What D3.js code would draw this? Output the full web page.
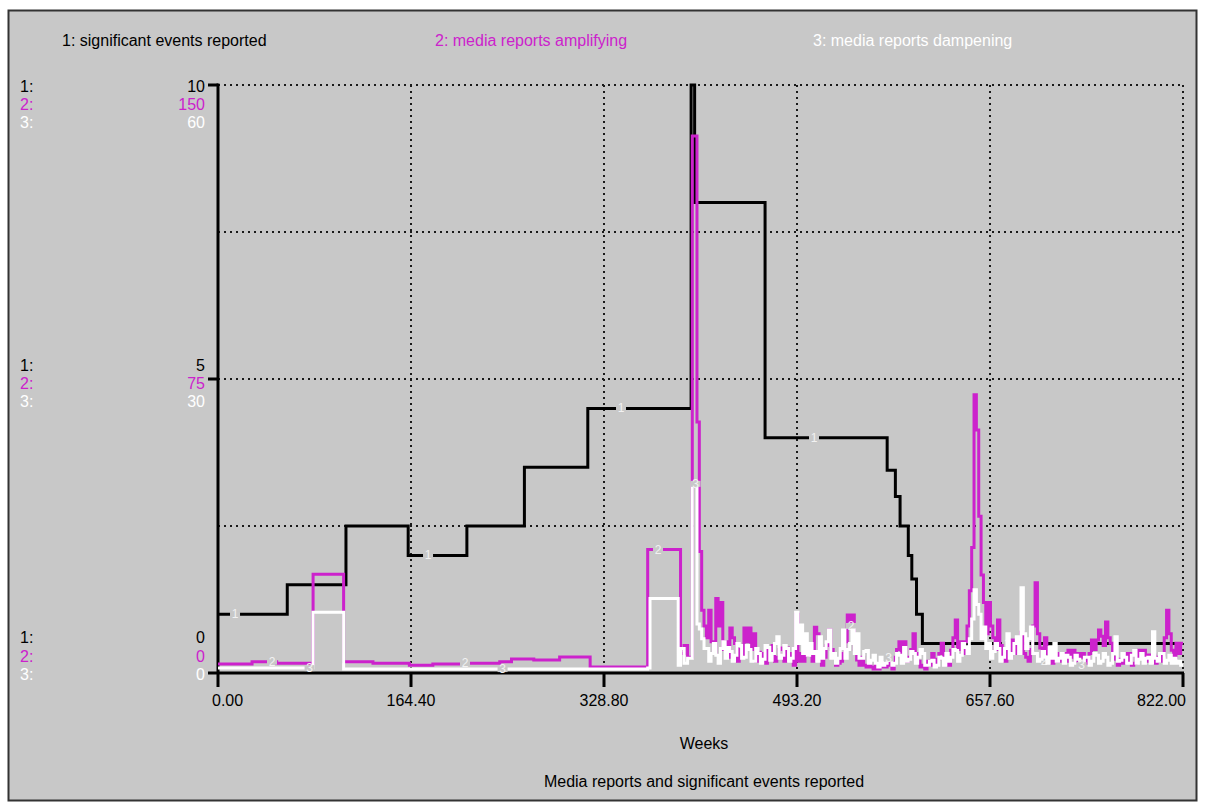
<!DOCTYPE html>
<html><head><meta charset="utf-8">
<script src="https://cdn.jsdelivr.net/npm/d3@7"></script>
<style>
body{margin:0;background:#ffffff;}
text{font-family:"Liberation Sans",Arial,sans-serif;}
</style>
</head><body>
<svg id="chart" width="1207" height="809"></svg>
<script>
// ---------------- data ----------------
const xTicks = [0, 164.4, 328.8, 493.2, 657.6, 822];
const seriesNames = ["1: significant events reported", "2: media reports amplifying", "3: media reports dampening"];
const seriesMax = [10, 150, 60];
const xLabel = "Weeks";
const chartTitle = "Media reports and significant events reported";

// series 1 : significant events reported (0..10)
const eventWeeks  = [0, 59, 109, 162, 212, 261, 315, 403, 406, 466, 570, 577, 581, 588, 591, 595, 600, 822];
const eventValues = [1.0, 1.5, 2.5, 2.0, 2.5, 3.5, 4.5, 10, 8.0, 4.0, 3.45, 3.0, 2.5, 2.0, 1.6, 1.0, 0.5, 0.5];

// series 2 and 3 share the week grid
const mediaWeeks = [0, 29, 50, 81, 107, 132, 163, 183, 208, 240, 250, 269, 291, 317, 366, 368, 392, 394, 397, 400,
  404, 406, 408, 410, 412, 414, 416, 418, 420, 422,
  424, 426, 428, 430, 432, 434, 436, 438, 440, 442,
  444, 446, 448, 450, 452, 454, 456, 458, 460, 462,
  464, 466, 468, 470, 472, 474, 476, 478, 480, 482,
  484, 486, 488, 490, 492, 494, 496, 498, 500, 502,
  504, 506, 508, 510, 512, 514, 516, 518, 520, 522,
  524, 526, 528, 530, 532, 534, 536, 538, 540, 542,
  544, 546, 548, 550, 552, 554, 556, 558, 560, 562,
  564, 566, 568, 570, 572, 574, 576, 578, 580, 582,
  584, 586, 588, 590, 592, 594, 596, 598, 600, 602,
  604, 606, 608, 610, 612, 614, 616, 618, 620, 622,
  624, 626, 628, 630, 632, 634, 636, 638, 640, 642,
  644, 646, 648, 650, 652, 654, 656, 658, 660, 662,
  664, 666, 668, 670, 672, 674, 676, 678, 680, 682,
  684, 686, 688, 690, 692, 694, 696, 698, 700, 702,
  704, 706, 708, 710, 712, 714, 716, 718, 720, 722,
  724, 726, 728, 730, 732, 734, 736, 738, 740, 742,
  744, 746, 748, 750, 752, 754, 756, 758, 760, 762,
  764, 766, 768, 770, 772, 774, 776, 778, 780, 782,
  784, 786, 788, 790, 792, 794, 796, 798, 800, 802,
  804, 806, 808, 810, 812, 814, 816, 818, 820, 822];

// series 2 : media reports amplifying (0..150)
const amplifying = [2.3, 2.9, 2.5, 25.2, 2.9, 2.5, 2.0, 2.3, 2.5, 2.9, 3.6, 3.3, 4.1, 1.5, 31.5, 31.5, 31.5, 5, 7, 4,
  137, 137, 64, 31, 16, 12, 9, 16, 8, 5,
  19, 12, 18, 6, 8, 4, 11.5, 9, 7.5, 3,
  6, 4, 11.5, 8, 11.5, 6, 10, 3, 5.3, 3,
  5, 2.5, 6, 4, 7, 3, 4, 6, 6.4, 3,
  6.4, 5, 3.3, 2, 15, 3, 5, 3, 4.5, 5,
  5.5, 3, 11.7, 10, 3.3, 2, 4, 7, 11, 6,
  4, 2, 2.5, 3, 5, 8, 14.8, 12, 14.8, 6,
  3.3, 2, 4, 2, 1.5, 2, 1.5, 1, 2, 1,
  2.5, 1.5, 1.5, 2, 2.5, 1, 4, 6, 8, 5,
  8, 3, 4, 6, 10, 5, 3, 1.5, 2, 1,
  3, 2, 5, 2, 3.5, 5, 7.6, 3, 4, 2,
  5.8, 9, 13.5, 6, 8, 5, 8, 12, 21, 32,
  71, 62, 40, 25, 18, 10, 18, 12, 9, 6,
  13.5, 7, 4.6, 3, 6, 4, 8.4, 5, 8.4, 6,
  10.4, 5, 4, 3, 6, 12, 23, 10, 6.4, 3,
  9, 5, 4, 2.5, 4, 3, 5, 3, 5, 3,
  5.8, 4, 5.8, 3, 5, 4, 5, 2.5, 3.5, 5,
  8.4, 6, 8.4, 11, 9.4, 7, 13, 9, 7.6, 4,
  3.5, 2, 3.5, 2.5, 5, 3, 5, 2, 2.5, 4,
  5.8, 4, 5.8, 3, 4.6, 3, 4.6, 2.5, 4, 3,
  4.6, 9, 16, 10, 5.8, 4, 7.6, 5, 7.6, 7.6];

// series 3 : media reports dampening (0..60)
const dampening = [0.5, 0.5, 0.5, 6.2, 0.4, 0.4, 0.4, 0.4, 0.4, 0.4, 0.4, 0.4, 0.4, 0.4, 0.5, 7.6, 0.8, 2.5, 1.0, 1.5,
  19.3, 19.3, 5, 4.5, 3.5, 2.5, 2.5, 1.2, 2.0, 3.0,
  1.8, 1.0, 2.5, 3.2, 1.5, 2.6, 2.2, 1.2, 1.8, 3.0,
  2.8, 1.5, 1.6, 2.8, 2.4, 1.2, 1.2, 2.5, 2.0, 1.0,
  1.4, 2.8, 2.6, 1.3, 2.0, 3.0, 3.7, 1.5, 1.8, 2.8,
  2.5, 1.2, 1.5, 2.5, 6.2, 3.0, 4.9, 2.0, 4.0, 1.8,
  3.0, 2.0, 2.2, 1.2, 3.7, 1.5, 2.5, 3.2, 4.4, 1.5,
  2.0, 1.0, 1.5, 2.5, 4.4, 1.5, 2.4, 3.0, 4.4, 2.0,
  4.0, 1.5, 1.5, 2.2, 2.3, 1.0, 1.3, 1.8, 1.0, 0.6,
  1.6, 0.8, 1.0, 1.5, 1.6, 0.8, 1.0, 2.0, 1.8, 1.0,
  2.6, 1.2, 1.4, 2.2, 2.0, 1.0, 1.6, 2.4, 2.0, 0.8,
  0.8, 1.2, 1.3, 0.6, 0.8, 1.6, 1.5, 0.8, 2.0, 1.2,
  1.6, 2.4, 2.3, 1.2, 1.8, 3.0, 2.6, 2.0, 3.5, 5.5,
  8.5, 7.0, 6.0, 3.5, 4.7, 2.5, 3.0, 1.5, 2.2, 3.0,
  2.5, 1.2, 1.6, 2.5, 4.0, 1.5, 2.0, 3.0, 3.7, 2.0,
  8.7, 4.0, 2.5, 3.5, 4.7, 2.0, 2.0, 1.2, 1.4, 2.2,
  1.6, 1.0, 2.6, 1.5, 3.0, 1.2, 1.5, 2.0, 1.0, 1.8,
  1.6, 0.8, 1.0, 1.8, 1.4, 0.8, 1.0, 1.6, 1.6, 0.8,
  1.2, 2.0, 1.8, 1.0, 1.2, 2.0, 1.6, 0.8, 1.0, 2.0,
  3.7, 1.2, 1.3, 2.0, 1.6, 1.0, 1.0, 1.8, 2.3, 1.0,
  1.4, 2.0, 1.0, 1.5, 1.6, 1.0, 4.2, 1.5, 1.2, 2.0,
  2.0, 1.0, 1.3, 1.8, 1.0, 1.5, 1.0, 1.2, 0.8, 0.8];

// ---------------- layout ----------------
const BG = "#c8c8c8";
const colors = ["#000000", "#cc22cc", "#ffffff"];
const svg = d3.select("#chart");
const L = 218, R = 1183, T = 85, B = 673;

const x = d3.scaleLinear().domain([0, 822]).range([L, R]);
const yScales = seriesMax.map(m => d3.scaleLinear().domain([0, m]).range([B, T]));

// frame
svg.append("rect").attr("x", 8.5).attr("y", 10.5).attr("width", 1188).attr("height", 790)
  .attr("fill", BG).attr("stroke", "#333").attr("stroke-width", 2);

// legend
const legendX = [62, 435, 813];
seriesNames.forEach((n, i) => {
  svg.append("text").attr("x", legendX[i]).attr("y", 40).attr("dominant-baseline", "central")
    .attr("font-size", 16).attr("fill", colors[i]).text(n);
});

// grid (dotted)
const grid = svg.append("g").attr("stroke", "#1a1a1a").attr("stroke-width", 2).attr("stroke-dasharray", "2,4");
const y1 = yScales[0];
[2.5, 5, 7.5, 10].forEach(v => {
  grid.append("line").attr("x1", L).attr("x2", R).attr("y1", y1(v)).attr("y2", y1(v));
});
xTicks.slice(1).forEach(t => {
  grid.append("line").attr("x1", x(t)).attr("x2", x(t)).attr("y1", T).attr("y2", B);
});

// axes
const ax = svg.append("g").attr("stroke", "#000").attr("stroke-width", 3).attr("stroke-linecap", "butt");
ax.append("line").attr("x1", L).attr("x2", L).attr("y1", T - 1.5).attr("y2", B + 14);
ax.append("line").attr("x1", L - 10).attr("x2", R + 1).attr("y1", B).attr("y2", B);
ax.append("line").attr("x1", L - 10).attr("x2", L).attr("y1", T).attr("y2", T);
ax.append("line").attr("x1", L - 10).attr("x2", L).attr("y1", y1(5)).attr("y2", y1(5));
xTicks.slice(1).forEach(t => {
  ax.append("line").attr("x1", x(t)).attr("x2", x(t)).attr("y1", B).attr("y2", B + 14);
});

// x tick labels
const fmtX = d3.format(".2f");
xTicks.forEach((t, i) => {
  let tx = x(t), anchor = "middle";
  if (i === 0) { tx = x(t) - 6; anchor = "start"; }
  if (i === xTicks.length - 1) { tx = x(t) + 3; anchor = "end"; }
  svg.append("text").attr("x", tx).attr("y", 700).attr("dominant-baseline", "central")
    .attr("text-anchor", anchor).attr("font-size", 16).attr("fill", "#000").text(fmtX(t));
});

svg.append("text").attr("x", 704).attr("y", 743).attr("dominant-baseline", "central")
  .attr("text-anchor", "middle").attr("font-size", 16).text(xLabel);
svg.append("text").attr("x", 704).attr("y", 781).attr("dominant-baseline", "central")
  .attr("text-anchor", "middle").attr("font-size", 16).text(chartTitle);

// y tick labels (three stacked scales)
const fractions = [1, 0.5, 0];
const rowOffsets = [[1, 19, 37], [-14, 4, 22], [-36, -17, 1]];
const fmtY = d3.format("~g");
fractions.forEach((f, gi) => {
  const ty = y1(f * seriesMax[0]);
  seriesMax.forEach((m, si) => {
    const yy = ty + rowOffsets[gi][si];
    svg.append("text").attr("x", 20).attr("y", yy).attr("dominant-baseline", "central")
      .attr("font-size", 16).attr("fill", colors[si]).text((si + 1) + ":");
    svg.append("text").attr("x", 205).attr("y", yy).attr("dominant-baseline", "central")
      .attr("text-anchor", "end").attr("font-size", 16).attr("fill", colors[si]).text(fmtY(f * m));
  });
});

// series lines
const seriesData = [
  eventWeeks.map((w, i) => [w, eventValues[i]]),
  mediaWeeks.map((w, i) => [w, amplifying[i]]),
  mediaWeeks.map((w, i) => [w, dampening[i]])
];
const markerOffsets = [14.5, 46, 78];
const bis = d3.bisector(d => d[0]).right;

seriesData.forEach((data, si) => {
  const ys = yScales[si];
  const line = d3.line().x(d => x(d[0])).y(d => ys(d[1])).curve(d3.curveStepAfter);
  svg.append("path").datum(data).attr("d", line).attr("fill", "none")
    .attr("stroke", colors[si]).attr("stroke-width", 3).attr("stroke-linejoin", "miter");
  // numbered markers
  for (let k = 0; k < 5; k++) {
    const w = markerOffsets[si] + k * 822 / 5;
    const idx = Math.max(0, bis(data, w) - 1);
    const v = data[idx][1];
    const mx = x(w), my = ys(v);
    svg.append("rect").attr("x", mx - 5).attr("y", my - 3).attr("width", 10).attr("height", 6).attr("fill", BG);
    svg.append("text").attr("x", mx).attr("y", my).attr("dominant-baseline", "central")
      .attr("text-anchor", "middle").attr("font-size", 12).attr("fill", "#f2f2f2").text(si + 1);
  }
});
</script>
</body></html>
